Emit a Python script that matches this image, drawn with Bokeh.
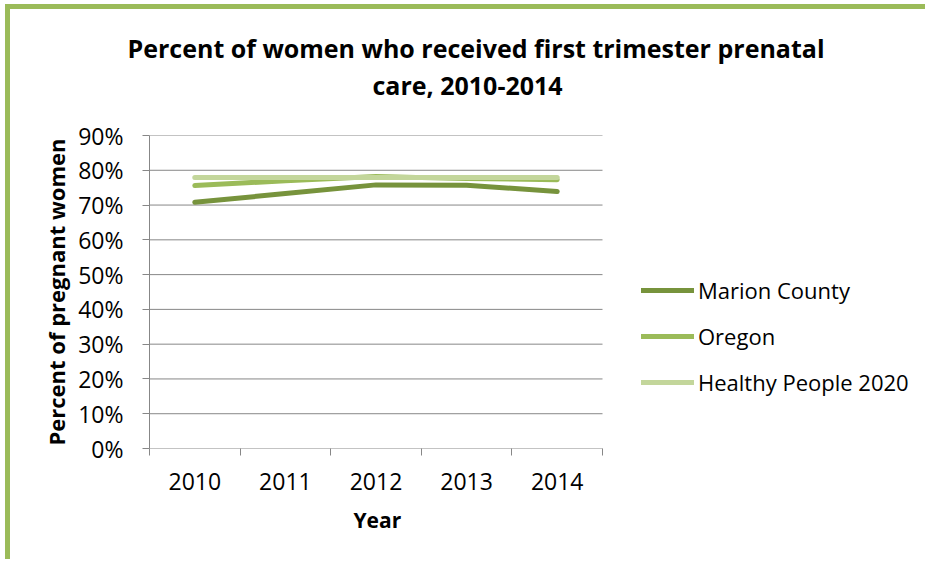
from bokeh.plotting import figure
from bokeh.models import (Range1d, FixedTicker, PrintfTickFormatter, Title, Legend, LegendItem)
from bokeh.embed import file_html
from bokeh.resources import INLINE

years = [2010, 2011, 2012, 2013, 2014]
year_labels = ["2010", "2011", "2012", "2013", "2014"]
marion = [70.8, 73.3, 75.8, 75.7, 73.9]
oregon = [75.6, 77.0, 78.2, 77.6, 77.3]
healthy_people = [77.9, 77.9, 77.9, 77.9, 77.9]
y_ticks = [0, 10, 20, 30, 40, 50, 60, 70, 80, 90]
series_names = ["Marion County", "Oregon", "Healthy People 2020"]
colors = ["#77933C", "#9BBB59", "#C3D69B"]
title_lines = ["Percent of women who received first trimester prenatal", "care, 2010-2014"]
x_title = "Year"
y_title = "Percent of pregnant women"

FONT = "Open Sans"
GRID = "#878787"

# layout (pixels)
W, H = 920, 555
BORDER_L, BORDER_T, BORDER_B = 139, 126, 116
PLOT_W = 453                       # visible plot area width inside the frame
FRAME_W = W - BORDER_L

x0 = years[0] - 0.5
x1 = years[-1] + 0.5
x_end = x0 + (x1 - x0) * FRAME_W / PLOT_W

p = figure(width=W, height=H, output_backend="svg", toolbar_location=None,
           x_range=Range1d(x0, x_end), y_range=Range1d(y_ticks[0], y_ticks[-1]),
           min_border_left=BORDER_L, min_border_right=0, min_border_top=BORDER_T,
           min_border_bottom=BORDER_B)
p.styles = {"border-top": "5px solid #9BBB59", "border-left": "5px solid #9BBB59",
            "margin-left": "5px", "margin-top": "4px"}
p.outline_line_color = None
p.background_fill_color = "white"
p.border_fill_color = "white"
p.xgrid.grid_line_color = None
p.ygrid.grid_line_color = None

# horizontal gridlines limited to the plot area
p.segment(x0=[x0] * len(y_ticks), x1=[x1] * len(y_ticks), y0=y_ticks, y1=y_ticks,
          line_color=GRID, line_width=1)

# x axis
xa = p.xaxis[0]
minor = sorted([y + 0.5 for y in years] + [x0])
xa.ticker = FixedTicker(ticks=years, minor_ticks=minor)
xa.major_label_overrides = {y: l for y, l in zip(years, year_labels)}
xa.major_tick_out = 0
xa.major_tick_in = 0
xa.minor_tick_out = 7
xa.minor_tick_in = 0
xa.minor_tick_line_color = GRID
xa.axis_line_color = None
xa.major_label_text_font = FONT
xa.major_label_text_font_size = "23px"
xa.major_label_text_color = "black"
xa.major_label_standoff = 17

ya = p.yaxis[0]
ya.ticker = FixedTicker(ticks=y_ticks)
ya.formatter = PrintfTickFormatter(format="%d%%")
ya.major_tick_out = 7
ya.major_tick_in = 0
ya.minor_tick_line_color = None
ya.major_tick_line_color = GRID
ya.axis_line_color = GRID
ya.major_label_text_font = FONT
ya.major_label_text_font_size = "23px"
ya.major_label_text_color = "black"
ya.major_label_standoff = 19
ya.axis_label = y_title
ya.axis_label_text_font = FONT
ya.axis_label_text_font_style = "bold"
ya.axis_label_text_font_size = "22px"
ya.axis_label_text_color = "black"
ya.axis_label_standoff = 4

renderers = []
for vals, c in zip([marion, oregon, healthy_people], colors):
    r = p.line(years, vals, line_color=c, line_width=5, line_cap="round", line_join="round")
    renderers.append(r)

legend = Legend(items=[LegendItem(label=n, renderers=[r]) for n, r in zip(series_names, renderers)],
                location=(492, 51), padding=0, margin=0, spacing=16,
                glyph_width=53, glyph_height=20, label_height=20, label_standoff=4,
                label_text_font=FONT, label_text_font_size="22px", label_text_color="black",
                background_fill_alpha=0, border_line_color=None)
p.add_layout(legend, "center")

# x axis title below the axis, centred under the plot area
p.add_layout(Title(text=x_title, align="left", offset=204, standoff=22,
                   text_font=FONT, text_font_style="bold", text_font_size="21px",
                   text_color="black"), "below")

# chart title (two lines) above the plot area
p.add_layout(Title(text=" ", standoff=20, text_font_size="10px"), "above")
p.add_layout(Title(text=title_lines[1], align="left", offset=223, standoff=2,
                   text_font=FONT, text_font_style="bold", text_font_size="25px",
                   text_color="black"), "above")
p.add_layout(Title(text=title_lines[0], align="left", offset=-22, standoff=0,
                   text_font=FONT, text_font_style="bold", text_font_size="25px",
                   text_color="black"), "above")

open("out.html", "w").write(file_html(p, INLINE))
